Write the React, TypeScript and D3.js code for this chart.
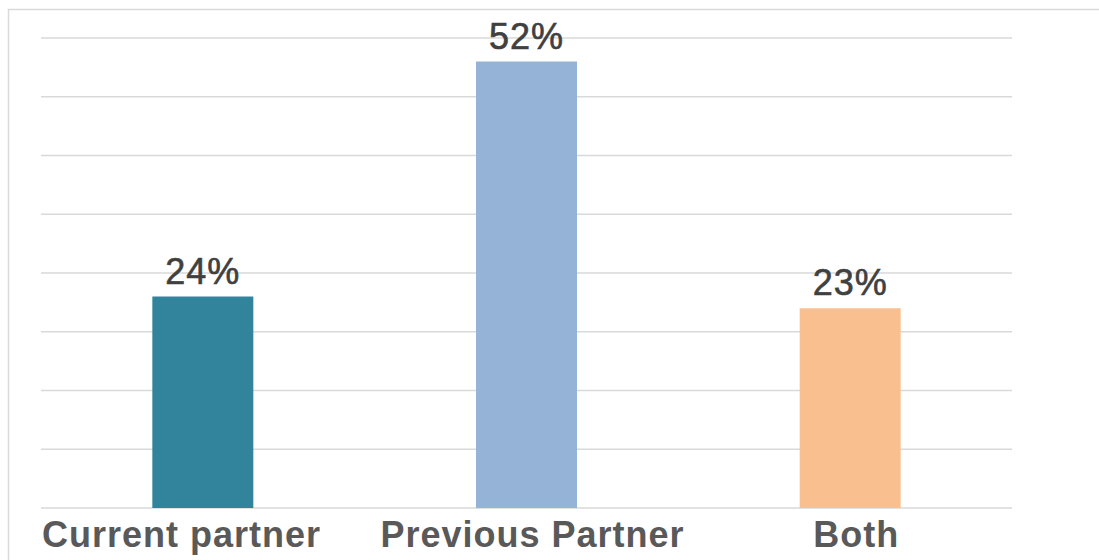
import React from "react";
import * as d3 from "d3";

const categories = ["Current partner", "Previous Partner", "Both"];
const values = [36, 76, 34];
const valueLabels = ["24%", "52%", "23%"];
const colors = ["#31849B", "#95B3D7", "#F9BF8F"];
const gridTicks = [0, 10, 20, 30, 40, 50, 60, 70, 80];

export default function App() {
  const W = 1099;
  const H = 560;
  const left = 41;
  const right = 1012;
  const top = 38;
  const bottom = 508;

  const x = d3.scaleBand<string>().domain(categories).range([left, right]).paddingInner(0.688).paddingOuter(0.344);
  const y = d3.scaleLinear().domain([0, 80]).range([bottom, top]);
  const font = "Liberation Sans, Arial, sans-serif";

  return (
    <svg width={W} height={H} style={{ position: "fixed", left: 0, top: 0, background: "#fff" }}>
      <rect x={8.5} y={9.5} width={1200} height={700} fill="#fff" stroke="#D9D9D9" strokeWidth={1.5} />
      {gridTicks.map((t) => (
        <line key={t} x1={left} x2={right} y1={y(t)} y2={y(t)} stroke="#D9D9D9" strokeWidth={1.3} />
      ))}
      {categories.map((c, i) => (
        <rect key={c} x={x(c)} y={y(values[i])} width={x.bandwidth()} height={y(0) - y(values[i])} fill={colors[i]} />
      ))}
      {categories.map((c, i) => (
        <text
          key={"v" + c}
          x={(x(c) as number) + x.bandwidth() / 2}
          y={y(values[i]) - 13}
          textAnchor="middle"
          fontFamily={font}
          fontSize={36}
          letterSpacing={1}
          fill="#404040"
          stroke="#404040"
          strokeWidth={0.6}
        >
          {valueLabels[i]}
        </text>
      ))}
      {categories.map((c, i) => (
        <text
          key={"c" + c}
          x={i === 0 ? left + 1 : (x(c) as number) + x.bandwidth() / 2 + 6}
          y={547}
          textAnchor={i === 0 ? "start" : "middle"}
          fontFamily={font}
          fontSize={36}
          fontWeight="bold"
          letterSpacing={1}
          fill="#595959"
        >
          {c}
        </text>
      ))}
    </svg>
  );
}
